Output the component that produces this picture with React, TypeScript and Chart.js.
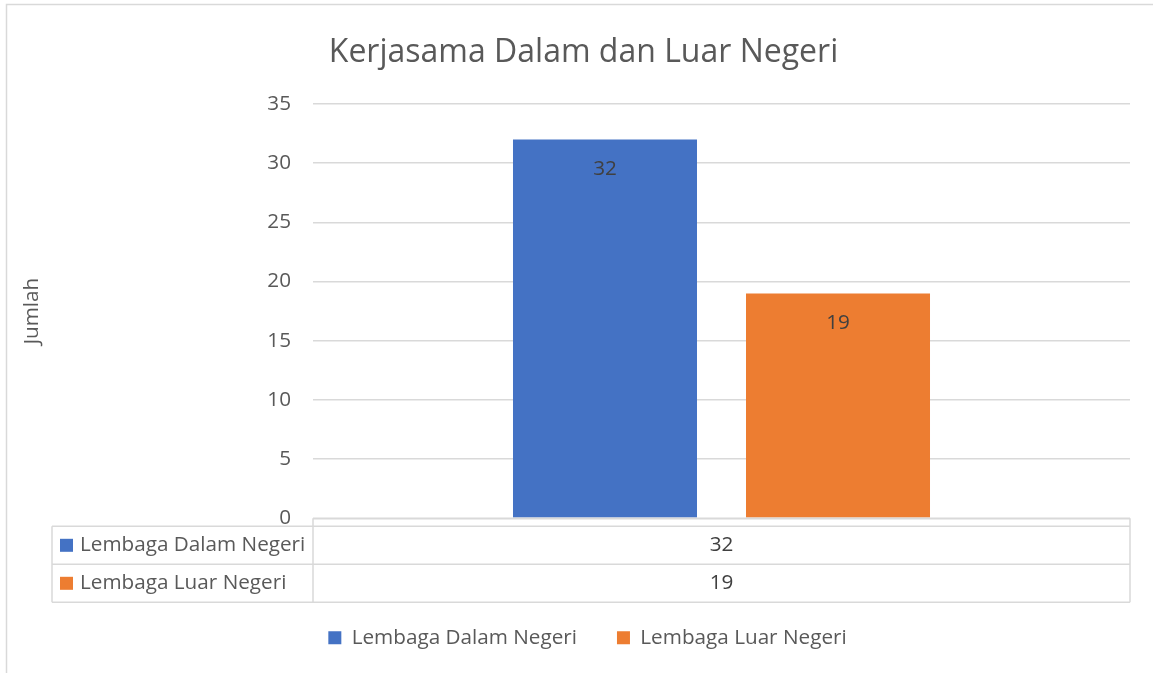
import React, { useEffect, useRef } from "react";
import { Chart, registerables } from "chart.js";

Chart.register(...registerables);

const categories: string[] = [""];
const seriesNames: string[] = ["Lembaga Dalam Negeri", "Lembaga Luar Negeri"];
const dalamNegeri: number[] = [32];
const luarNegeri: number[] = [19];
const seriesColors: string[] = ["#4472C4", "#ED7D31"];
const yTicks: number[] = [0, 5, 10, 15, 20, 25, 30, 35];
const titleText = "Kerjasama Dalam dan Luar Negeri";
const yTitle = "Jumlah";

const FONT = "'Open Sans', 'Noto Sans', sans-serif";
const TEXT = "#595959";
const LINE = "#d9d9d9";
const FS = 20.7;

const framePlugin = {
  id: "frame",
  beforeDraw(chart: any) {
    const ctx = chart.ctx;
    ctx.save();
    ctx.strokeStyle = LINE;
    ctx.lineWidth = 1.5;
    ctx.strokeRect(6.5, 4.5, chart.width + 20, chart.height + 20);
    ctx.restore();
  },
};

const shiftPlugin = {
  id: "boxShift",
  afterLayout(chart: any) {
    const lg = chart.legend;
    if (lg) {
      lg.left += 19;
      lg.right += 19;
    }
    const tt = chart.titleBlock;
    if (tt) {
      tt.left += 15;
      tt.right += 15;
    }
  },
};

const labelPlugin = {
  id: "barLabels",
  afterDatasetsDraw(chart: any) {
    const ctx = chart.ctx;
    ctx.save();
    ctx.font = `${FS}px ${FONT}`;
    ctx.fillStyle = "#404040";
    ctx.textAlign = "center";
    ctx.textBaseline = "middle";
    chart.data.datasets.forEach((ds: any, i: number) => {
      const meta = chart.getDatasetMeta(i);
      meta.data.forEach((el: any, j: number) => {
        ctx.fillText(String(ds.data[j]), el.x, el.y + 30);
      });
    });
    ctx.restore();
  },
};

const tablePlugin = {
  id: "dataTable",
  afterDraw(chart: any) {
    const ctx = chart.ctx;
    const area = chart.chartArea;
    const xScale = chart.scales.x;
    const top = area.bottom;
    const headerBottom = top + 8;
    const rowH = 38;
    const leftX = 52;
    const divX = area.left;
    const rightX = area.right;
    const n = chart.data.datasets.length;
    const bottom = headerBottom + rowH * n;
    ctx.save();
    ctx.strokeStyle = LINE;
    ctx.lineWidth = 1.5;
    ctx.beginPath();
    ctx.moveTo(divX, top);
    ctx.lineTo(rightX, top);
    for (let r = 0; r <= n; r++) {
      const y = headerBottom + rowH * r;
      ctx.moveTo(leftX, y);
      ctx.lineTo(rightX, y);
    }
    ctx.moveTo(leftX, headerBottom);
    ctx.lineTo(leftX, bottom);
    ctx.moveTo(divX, top);
    ctx.lineTo(divX, bottom);
    ctx.moveTo(rightX, top);
    ctx.lineTo(rightX, bottom);
    ctx.stroke();

    ctx.font = `${FS}px ${FONT}`;
    ctx.textBaseline = "middle";
    chart.data.datasets.forEach((ds: any, i: number) => {
      const cy = headerBottom + rowH * i + rowH / 2;
      ctx.fillStyle = ds.backgroundColor;
      ctx.fillRect(60, cy - 6.5, 13, 13);
      ctx.fillStyle = TEXT;
      ctx.textAlign = "left";
      ctx.fillText(ds.label, 80, cy);
      ctx.fillStyle = "#404040";
      ctx.textAlign = "center";
      chart.data.labels.forEach((_: any, j: number) => {
        ctx.fillText(String(ds.data[j]), xScale.getPixelForValue(j), cy);
      });
    });
    ctx.restore();
  },
};

export default function App() {
  const ref = useRef<HTMLCanvasElement>(null);
  useEffect(() => {
    document.body.style.margin = "0";
    const canvas = ref.current!;
    const chart = new Chart(canvas, {
      type: "bar",
      data: {
        labels: categories,
        datasets: [
          { label: seriesNames[0], data: dalamNegeri, backgroundColor: seriesColors[0], borderWidth: 0 },
          { label: seriesNames[1], data: luarNegeri, backgroundColor: seriesColors[1], borderWidth: 0 },
        ],
      },
      options: {
        responsive: false,
        animation: false,
        devicePixelRatio: 1,
        datasets: { bar: { categoryPercentage: 0.5704, barPercentage: 0.7897 } },
        layout: { padding: { left: 7, right: 23, top: 0, bottom: 15 } },
        plugins: {
          title: {
            display: true,
            text: titleText,
            color: TEXT,
            font: { family: FONT, size: 32, weight: "normal" },
            padding: { top: 34, bottom: 31.6 },
          },
          legend: {
            display: true,
            position: "bottom",
            labels: {
              color: TEXT,
              font: { family: FONT, size: FS },
              boxWidth: 13,
              boxHeight: 13,
              padding: 40,
            },
          },
          tooltip: { enabled: false },
        },
        scales: {
          x: {
            display: true,
            grid: { display: false },
            border: { display: false },
            ticks: { display: false },
            afterFit: (s: any) => { s.height = 69; },
          },
          y: {
            min: 0,
            max: 35,
            afterFit: (s: any) => { s.width = 306; },
            afterBuildTicks: (s: any) => { s.ticks = yTicks.map((v) => ({ value: v })); },
            grid: { color: LINE, lineWidth: 1.5, drawTicks: false },
            border: { display: false },
            ticks: { color: TEXT, font: { family: FONT, size: FS }, padding: 22 },
            title: {
              display: true,
              text: yTitle,
              color: TEXT,
              font: { family: FONT, size: FS },
              padding: { top: 13, bottom: 0 },
            },
          },
        },
      },
      plugins: [framePlugin, shiftPlugin, labelPlugin, tablePlugin],
    });
    return () => chart.destroy();
  }, []);
  return (
    <div style={{ width: 1153, height: 673 }}>
      <canvas ref={ref} width={1153} height={673} />
    </div>
  );
}
